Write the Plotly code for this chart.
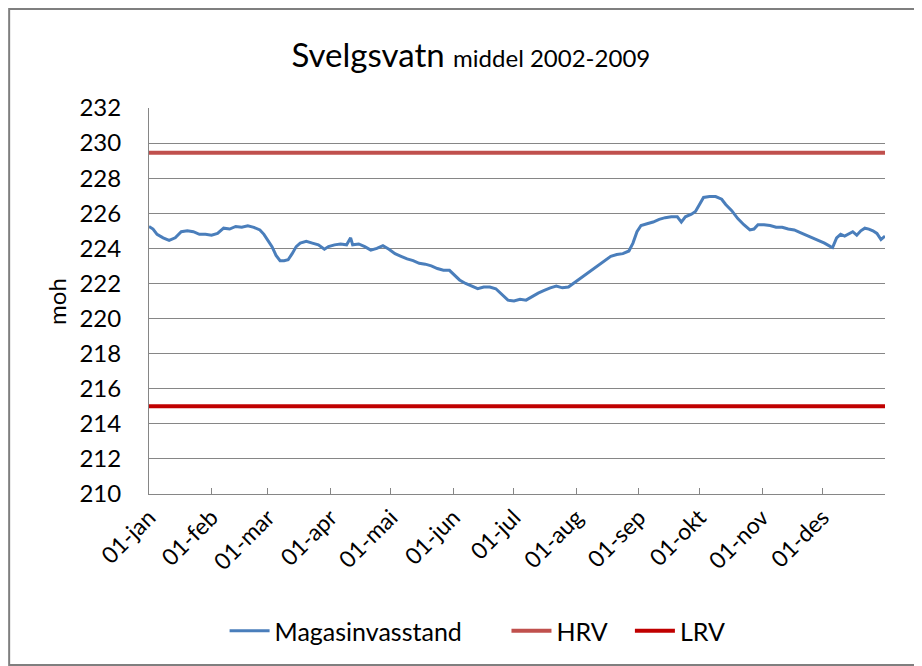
import pandas as pd
import plotly.graph_objects as go

# Day offsets from 01-jan and mean reservoir level (moh)
days = [0, 2, 4, 7, 10, 13, 16, 19, 22, 25, 28, 31, 34, 37, 40, 43, 46, 49, 52, 55,
        57, 59, 61, 63, 65, 67, 69, 71, 73, 75, 78, 81, 84, 87, 89, 92, 95, 98, 100, 101,
        104, 107, 110, 113, 116, 119, 122, 125, 128, 131, 134, 137, 140, 143, 146, 149, 151, 154, 157, 160,
        163, 166, 169, 172, 175, 178, 181, 184, 187, 190, 193, 196, 199, 202, 205, 208, 211, 214, 217, 220,
        223, 226, 229, 232, 235, 238, 240, 242, 244, 247, 250, 253, 256, 259, 262, 264, 266, 269, 271, 273,
        275, 278, 281, 284, 286, 289, 292, 295, 298, 300, 302, 305, 308, 311, 314, 317, 320, 323, 326, 329,
        332, 335, 338, 339, 341, 343, 345, 347, 349, 351, 353, 355, 357, 359, 361, 363, 365]
levels = [225.25, 225.1, 224.8, 224.6, 224.45, 224.6, 224.95, 225.0, 224.95, 224.8, 224.8, 224.75, 224.85, 225.15, 225.1, 225.25, 225.2, 225.28, 225.2, 225.05,
          224.8, 224.45, 224.1, 223.6, 223.3, 223.3, 223.35, 223.7, 224.1, 224.3, 224.4, 224.3, 224.2, 223.95, 224.1, 224.2, 224.25, 224.2, 224.6, 224.2,
          224.25, 224.1, 223.9, 224.0, 224.15, 223.95, 223.7, 223.55, 223.4, 223.3, 223.15, 223.1, 223.0, 222.85, 222.75, 222.75, 222.55, 222.2, 222.0, 221.85,
          221.7, 221.8, 221.8, 221.7, 221.4, 221.05, 221.0, 221.1, 221.05, 221.25, 221.45, 221.6, 221.75, 221.85, 221.75, 221.8, 222.05, 222.35, 222.6, 222.85,
          223.1, 223.35, 223.55, 223.65, 223.7, 223.85, 224.3, 224.95, 225.3, 225.4, 225.5, 225.65, 225.75, 225.8, 225.8, 225.5, 225.8, 225.95, 226.1, 226.5,
          226.9, 226.95, 226.95, 226.8, 226.5, 226.15, 225.7, 225.35, 225.05, 225.1, 225.35, 225.35, 225.3, 225.2, 225.2, 225.1, 225.05, 224.9, 224.75, 224.6,
          224.45, 224.3, 224.1, 224.05, 224.6, 224.8, 224.7, 224.85, 224.95, 224.75, 225.0, 225.15, 225.1, 225.0, 224.85, 224.5, 224.7]

ref_dates = ["2009-01-01", "2010-01-01"]
hrv = [229.45, 229.45]
lrv = [215.0, 215.0]

tick_dates = ["2009-01-01", "2009-02-01", "2009-03-01", "2009-04-01", "2009-05-01", "2009-06-01",
              "2009-07-01", "2009-08-01", "2009-09-01", "2009-10-01", "2009-11-01", "2009-12-01"]
tick_labels = ["01-jan", "01-feb", "01-mar", "01-apr", "01-mai", "01-jun",
               "01-jul", "01-aug", "01-sep", "01-okt", "01-nov", "01-des"]

dates = pd.Timestamp("2009-01-01") + pd.to_timedelta(days, unit="D")

FONT = "Lato, 'Open Sans', sans-serif"

fig = go.Figure()
fig.add_trace(go.Scatter(x=dates, y=levels, mode="lines", name="Magasinvasstand",
                         line=dict(color="#4A7EBB", width=3), legend="legend"))
fig.add_trace(go.Scatter(x=ref_dates, y=hrv, mode="lines", name="HRV",
                         line=dict(color="#C0504D", width=4), legend="legend2"))
fig.add_trace(go.Scatter(x=ref_dates, y=lrv, mode="lines", name="LRV",
                         line=dict(color="#C00000", width=4), legend="legend3"))

leg_common = dict(orientation="h", xref="paper", yref="paper", xanchor="left",
                  yanchor="middle", y=-0.355, font=dict(size=25),
                  bgcolor="rgba(0,0,0,0)", itemwidth=40)

fig.update_layout(
    width=922, height=666,
    margin=dict(l=141, r=45, t=100, b=180, autoexpand=False),
    paper_bgcolor="white", plot_bgcolor="white",
    font=dict(family=FONT, size=22, color="#000000"),
    title=dict(text="Svelgsvatn <span style='font-size:24px'>middel 2002-2009</span>",
               font=dict(family=FONT, size=33, color="#000000"),
               x=0.502, xref="container", xanchor="center",
               y=0.929, yref="container", yanchor="middle"),
    showlegend=True,
    legend=dict(x=0.1027, **leg_common),
    legend2=dict(x=0.4857, **leg_common),
    legend3=dict(x=0.6534, **leg_common),
    shapes=[dict(type="rect", xref="paper", yref="paper",
                 x0=-0.19, x1=1.049, y0=-0.443, y1=1.2565,
                 line=dict(color="#7F7F7F", width=2), fillcolor="rgba(0,0,0,0)", layer="below")],
    annotations=[dict(text="moh", xref="paper", yref="paper", x=-0.1264, y=0.5,
                      xanchor="center", yanchor="middle", textangle=-90, showarrow=False,
                      font=dict(family=FONT, size=24, color="#000000"))],
)

fig.update_xaxes(type="date", range=["2009-01-01", "2010-01-01"],
                 tickvals=tick_dates, ticktext=tick_labels, tickangle=-45,
                 showgrid=False, showline=True, linecolor="#868686", linewidth=1,
                 ticks="inside", ticklen=6, tickcolor="#868686",
                 tickfont=dict(size=23), zeroline=False)
fig.update_yaxes(range=[210, 232], dtick=2, tick0=210,
                 showgrid=True, gridcolor="#868686", gridwidth=1,
                 showline=True, linecolor="#868686", linewidth=1,
                 ticks="outside", ticklen=22, tickcolor="rgba(0,0,0,0)",
                 tickfont=dict(size=24), zeroline=False)

fig.write_html("out.html")
